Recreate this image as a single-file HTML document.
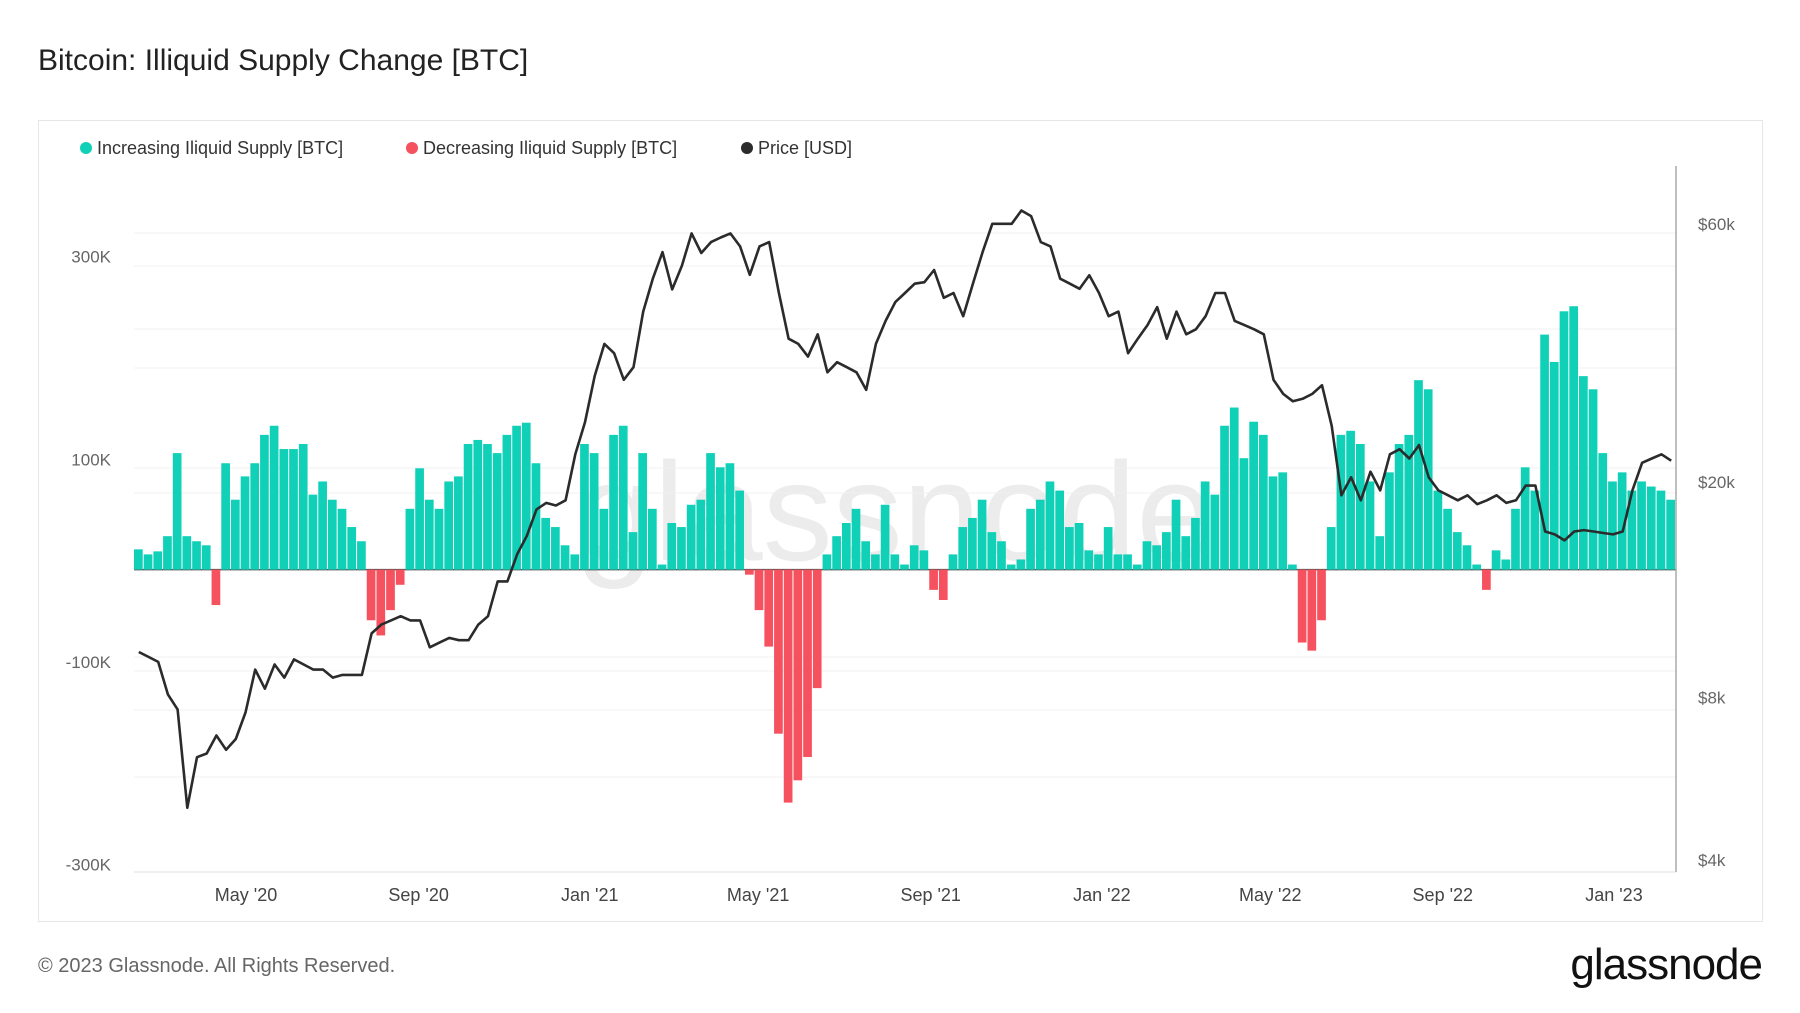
<!DOCTYPE html>
<html><head><meta charset="utf-8">
<style>
html,body{margin:0;padding:0;background:#fff;}
body{width:1800px;height:1013px;position:relative;overflow:hidden;font-family:"Liberation Sans",sans-serif;}
.t{position:absolute;white-space:nowrap;}
</style></head>
<body>
<div class="t" style="left:38px;top:44px;font-size:30px;color:#222;">Bitcoin: Illiquid Supply Change [BTC]</div>
<div style="position:absolute;left:38px;top:120px;width:1723px;height:800px;border:1px solid #e6e6e6;"></div>
<div style="position:absolute;left:80px;top:138px;font-size:18px;color:#333;">
 <span style="position:absolute;left:0;white-space:nowrap;"><span style="display:inline-block;width:12px;height:12px;border-radius:6px;background:#10d1b7;margin-right:5px;"></span>Increasing Iliquid Supply [BTC]</span>
 <span style="position:absolute;left:326px;white-space:nowrap;"><span style="display:inline-block;width:12px;height:12px;border-radius:6px;background:#f5515f;margin-right:5px;"></span>Decreasing Iliquid Supply [BTC]</span>
 <span style="position:absolute;left:661px;white-space:nowrap;"><span style="display:inline-block;width:12px;height:12px;border-radius:6px;background:#2b2b2b;margin-right:5px;"></span>Price [USD]</span>
</div>
<svg id="chart" width="1800" height="1013" style="position:absolute;left:0;top:0;" xmlns="http://www.w3.org/2000/svg">
 <text x="895" y="560" text-anchor="middle" font-size="140" font-family="Liberation Sans, sans-serif" fill="#ececec">glassnode</text>
</svg>
<div class="t" style="left:38px;top:955px;font-size:20px;color:#666;">© 2023 Glassnode. All Rights Reserved.</div>
<div class="t" style="right:38px;top:940px;font-size:44px;color:#111;letter-spacing:-1px;">glassnode</div>
<script>
const supplyK = [20,15,18,33,115,33,28,24,-35,105,69,92,105,133,142,119,119,124,74,87,69,60,42,28,-50,-65,-40,-15,60,100,69,60,87,92,124,128,124,115,133,142,
145,105,51,42,24,15,124,115,60,133,142,37,115,60,5,46,42,64,69,115,101,105,78,-5,-40,-76,-162,-230,-208,-185,-117,15,33,46,60,28,15,64,15,5,
24,19,-20,-30,15,42,51,69,37,28,5,10,60,69,87,78,42,46,19,15,42,15,15,5,28,24,37,69,33,51,87,74,142,160,110,146,133,92,96,5,
-72,-80,-50,42,133,137,124,87,33,96,124,133,187,178,78,60,37,24,5,-20,19,10,60,101,78,232,205,255,260,191,178,115,87,96,78,87,82,78,69];
const priceK = [9.7,9.5,9.3,8.1,7.6,5.0,6.2,6.3,6.8,6.4,6.7,7.5,9.0,8.3,9.2,8.7,9.4,9.2,9.0,9.0,8.7,8.8,8.8,8.8,10.5,10.9,11.1,11.3,11.1,11.1,9.9,10.1,10.3,10.2,10.2,10.9,11.3,13.1,13.1,14.7,
15.9,17.8,18.3,18.1,18.5,22.5,25.8,31.4,36,34.6,30.9,32.6,41.3,47.5,53.2,45.4,50.2,57.6,53,55.5,56.6,57.6,54.5,48.3,54.5,55.5,44.7,36.8,36,34.1,37.5,31.9,33.3,32.6,31.9,29.6,36,39.7,43,44.7,
46.5,46.8,49.3,43.8,44.7,40.5,46.5,53.2,60,60,60,63.5,62,55.5,54.5,47.5,46.5,45.5,48.2,44.7,40.5,41.3,34.6,36.8,39,42.1,36.8,41.3,37.5,38.3,40.5,44.7,44.7,39.7,39,38.3,37.5,30.9,29.1,28.2,
28.5,29.1,30.2,25.4,18.9,20.4,18.5,20.9,19.3,22.5,23.0,22.1,23.4,20.4,19.3,18.9,18.5,18.9,18.2,18.5,18.9,18.3,18.5,19.7,19.7,16.2,16.0,15.6,16.2,16.3,16.2,16.1,16.0,16.2,19.3,21.7,22.1,22.5,21.9];
const leftTicks = [300,100,-100,-300];
const leftTickLabels = ["300K","100K","-100K","-300K"];
const rightTicks = [60,20,8,4];
const rightTickLabels = ["$60k","$20k","$8k","$4k"];
const xTickDates = ["2020-05-01","2020-09-01","2021-01-01","2021-05-01","2021-09-01","2022-01-01","2022-05-01","2022-09-01","2023-01-01"];
const xTickLabels = ["May '20","Sep '20","Jan '21","May '21","Sep '21","Jan '22","May '22","Sep '22","Jan '23"];

const NS="http://www.w3.org/2000/svg";
const svg=document.getElementById('chart');
const L=134,R=1676,T=166,B=872,Z=569.6;
const start=Date.UTC(2020,1,9);
const pxDay=1.403;
function xDay(d){return L+d*pxDay;}
const nW=Math.max(priceK.length,supplyK.length);
const wStep=(R-L)/nW;
function xWeek(i){return L+i*wStep;}
function xDate(s){const p=s.split('-');return xDay((Date.UTC(+p[0],+p[1]-1,+p[2])-start)/86400000);}
function yL(v){return Z-v*1.013;}
function yR(p){return 482-235*Math.log(p/20);}
function mk(tag,attrs){const e=document.createElementNS(NS,tag);for(const k in attrs)e.setAttribute(k,attrs[k]);svg.appendChild(e);return e;}

[233,266,329,368,468,493,657,671,710,777].forEach(y=>{
 const g=mk('line',{x1:L,x2:R,y1:y,y2:y,stroke:'#f0f0f0','stroke-width':1});
 
 
});
const base=mk('line',{x1:L,x2:R,y1:B,y2:B,stroke:'#e2e2e2','stroke-width':1});


const zl=mk('line',{x1:L,x2:R,y1:Z,y2:Z,stroke:'#555','stroke-width':1.5});


const ra=mk('line',{x1:R,x2:R,y1:T,y2:B,stroke:'#aaa','stroke-width':1.5});



supplyK.forEach((v,i)=>{
 const x0=xWeek(i), x1=xWeek(i+1);
 const y=yL(v);
 const r=mk('rect',{x:x0,y:Math.min(y,Z),width:Math.max(1,x1-x0-1),height:Math.abs(Z-y),fill:v>=0?'#10d1b7':'#f5515f'});
 
 
});

let d='';
priceK.forEach((p,i)=>{d+=(i?'L':'M')+(xWeek(i)+wStep/2).toFixed(1)+' '+yR(p).toFixed(1);});
const pl=mk('path',{d:d,fill:'none',stroke:'#2b2b2b','stroke-width':2.6,'stroke-linejoin':'round'});



leftTicks.forEach((v,i)=>{
 const t=mk('text',{x:111,y:yL(v)-3,'text-anchor':'end','font-size':17,fill:'#666','font-family':'Liberation Sans, sans-serif'});
 t.textContent=leftTickLabels[i];
 
 
});
rightTicks.forEach((v,i)=>{
 const t=mk('text',{x:1698,y:yR(v)+6,'font-size':17,fill:'#666','font-family':'Liberation Sans, sans-serif'});
 t.textContent=rightTickLabels[i];
 
 
});
xTickDates.forEach((s,i)=>{
 const t=mk('text',{x:xDate(s)-3,y:901,'text-anchor':'middle','font-size':18,fill:'#444','font-family':'Liberation Sans, sans-serif'});
 t.textContent=xTickLabels[i];
 
 
});
</script>
</body></html>
